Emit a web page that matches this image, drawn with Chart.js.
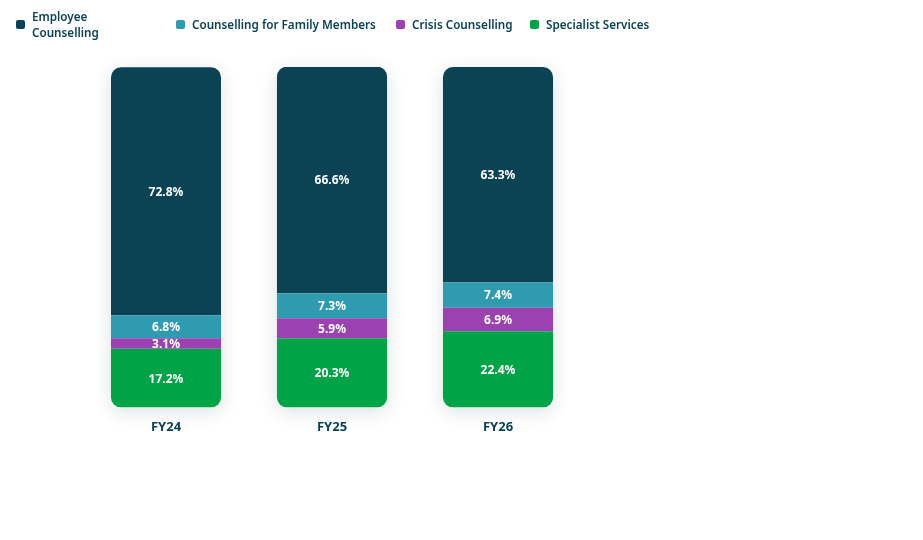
<!DOCTYPE html>
<html>
<head>
<meta charset="utf-8">
<script src="https://cdn.jsdelivr.net/npm/chart.js@4.4.1/dist/chart.umd.min.js"></script>
<style>
  body { margin: 0; background: #fff; font-family: "Noto Sans", sans-serif; }
  .wrap { position: relative; width: 923px; height: 540px; }
  #legend { position: absolute; left: 16px; top: 8px; display: flex; align-items: center; }
  .item { display: flex; align-items: center; font-size: 11.7px; font-weight: 600; color: #0b4355; line-height: 16px; }
  .box { width: 9px; height: 9px; border-radius: 2px; margin: 0 7px 0 0; flex: none; }
</style>
</head>
<body>
<div class="wrap">
  <canvas id="myChart" width="923" height="540"></canvas>
  <div id="legend"></div>
</div>
<script>
  const categories = ["FY24", "FY25", "FY26"];
  // bottom to top in the stack
  const specialistServices = [17.2, 20.3, 22.4];
  const crisisCounselling = [3.1, 5.9, 6.9];
  const familyCounselling = [6.8, 7.3, 7.4];
  const employeeCounselling = [72.8, 66.6, 63.3];

  const colors = {
    employee: "#0b4355",
    family: "#2e9bb1",
    crisis: "#9b41b1",
    specialist: "#00a346",
  };

  // legend order as shown
  const legendItems = [
    { label: "Employee Counselling", color: colors.employee, width: 160, wrap: 70 },
    { label: "Counselling for Family Members", color: colors.family, width: 220 },
    { label: "Crisis Counselling", color: colors.crisis, width: 134 },
    { label: "Specialist Services", color: colors.specialist, width: 140 },
  ];

  const legend = document.getElementById("legend");
  legendItems.forEach((it) => {
    const d = document.createElement("div");
    d.className = "item";
    d.style.width = it.width + "px";
    const maxW = it.wrap ? it.wrap + "px" : "none";
    d.innerHTML = '<span class="box" style="background:' + it.color + '"></span><span style="max-width:' + maxW + '">' + it.label + "</span>";
    legend.appendChild(d);
  });

  // soft shadow behind each whole stack
  const stackShadow = {
    id: "stackShadow",
    beforeDatasetsDraw(chart) {
      const ctx = chart.ctx;
      const first = chart.getDatasetMeta(0).data;
      const last = chart.getDatasetMeta(chart.data.datasets.length - 1).data;
      ctx.save();
      ctx.shadowColor = "rgba(0, 40, 60, 0.14)";
      ctx.shadowBlur = 18;
      ctx.shadowOffsetY = 4;
      ctx.fillStyle = "#ffffff";
      first.forEach((bar, i) => {
        const w = bar.width;
        const top = last[i].y;
        const bottom = bar.base;
        ctx.beginPath();
        ctx.roundRect(bar.x - w / 2, top, w, bottom - top, 10);
        ctx.fill();
      });
      ctx.restore();
    },
  };

  // percent labels in the middle of each segment
  const segmentLabels = {
    id: "segmentLabels",
    afterDatasetsDraw(chart) {
      const ctx = chart.ctx;
      ctx.save();
      ctx.fillStyle = "#ffffff";
      ctx.font = "bold 12px 'Noto Sans', sans-serif";
      ctx.textAlign = "center";
      ctx.textBaseline = "middle";
      chart.data.datasets.forEach((ds, di) => {
        chart.getDatasetMeta(di).data.forEach((bar, i) => {
          const p = bar.getCenterPoint();
          ctx.fillText(ds.data[i].toFixed(1) + "%", p.x, p.y + 1);
        });
      });
      ctx.restore();
    },
  };

  const noRadius = { topLeft: 0, topRight: 0, bottomLeft: 0, bottomRight: 0 };

  new Chart(document.getElementById("myChart"), {
    type: "bar",
    data: {
      labels: categories,
      datasets: [
        { label: "Specialist Services", data: specialistServices, backgroundColor: colors.specialist,
          borderRadius: { topLeft: 0, topRight: 0, bottomLeft: 10, bottomRight: 10 } },
        { label: "Crisis Counselling", data: crisisCounselling, backgroundColor: colors.crisis, borderRadius: noRadius },
        { label: "Counselling for Family Members", data: familyCounselling, backgroundColor: colors.family, borderRadius: noRadius },
        { label: "Employee Counselling", data: employeeCounselling, backgroundColor: colors.employee,
          borderRadius: { topLeft: 10, topRight: 10, bottomLeft: 0, bottomRight: 0 } },
      ],
    },
    options: {
      responsive: false,
      animation: false,
      layout: { padding: { top: 67, left: 83, right: 342, bottom: 93 } },
      datasets: {
        bar: {
          categoryPercentage: 1,
          barPercentage: 0.663,
          borderSkipped: false,
          borderWidth: 0,
        },
      },
      plugins: {
        legend: { display: false },
        tooltip: { enabled: false },
      },
      scales: {
        x: {
          stacked: true,
          grid: { display: false, drawTicks: false },
          border: { display: false },
          ticks: {
            padding: 12,
            color: "#0b4355",
            font: { family: "'Noto Sans', sans-serif", size: 13, weight: "bold" },
          },
        },
        y: {
          stacked: true,
          display: false,
          min: 0,
          max: 100,
        },
      },
    },
    plugins: [stackShadow, segmentLabels],
  });
</script>
</body>
</html>
